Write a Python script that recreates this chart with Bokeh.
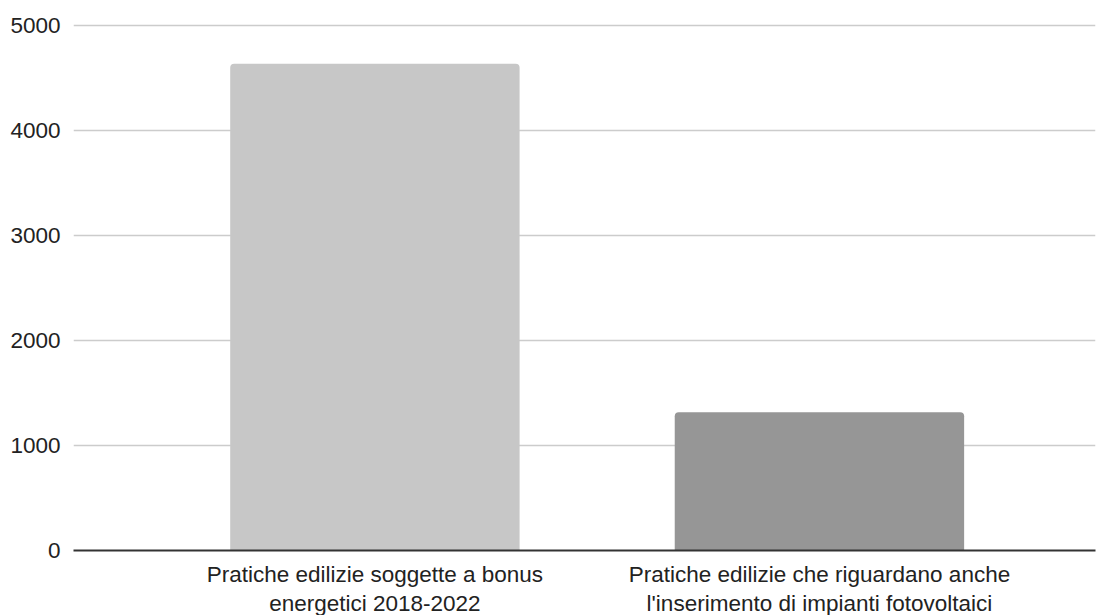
from bokeh.plotting import figure
from bokeh.models import Range1d, FixedTicker, ColumnDataSource
from bokeh.embed import file_html
from bokeh.resources import INLINE

categories = [
    "Pratiche edilizie soggette a bonus\nenergetici 2018-2022",
    "Pratiche edilizie che riguardano anche\nl'inserimento di impianti fotovoltaici",
]
values = [4636, 1318]
colors = ["#c7c7c7", "#969696"]
y_ticks = [0, 1000, 2000, 3000, 4000, 5000]

xs = list(range(len(categories)))
src = ColumnDataSource(dict(x=xs, top=values, color=colors))

p = figure(
    frame_width=1022, frame_height=527,
    x_range=Range1d(-0.678, 1.621), y_range=Range1d(0, 5020),
    output_backend="svg", toolbar_location=None,
    min_border_left=73, min_border_right=2, min_border_top=23, min_border_bottom=0,
)
p.outline_line_color = None
p.background_fill_color = "white"
p.border_fill_color = "white"

p.vbar(x="x", top="top", width=0.651, fill_color="color", line_color=None,
       source=src, border_radius=[4, 4, 0, 0])

font = "Liberation Sans"
# y axis
p.yaxis.ticker = FixedTicker(ticks=y_ticks)
p.yaxis.axis_line_color = None
p.yaxis.major_tick_line_color = None
p.yaxis.minor_tick_line_color = None
p.yaxis.major_label_standoff = 7
p.yaxis.major_label_text_font = font
p.yaxis.major_label_text_font_size = "22.5px"
p.yaxis.major_label_text_color = "#222222"

# x axis
p.xaxis.ticker = FixedTicker(ticks=xs)
p.xaxis.major_label_overrides = {i: c for i, c in zip(xs, categories)}
p.xaxis.axis_line_color = "#333333"
p.xaxis.axis_line_width = 2
p.xaxis.major_tick_line_color = None
p.xaxis.minor_tick_line_color = None
p.xaxis.major_label_standoff = 5
p.xaxis.major_label_text_font = font
p.xaxis.major_label_text_font_size = "22.5px"
p.xaxis.major_label_text_line_height = 1.17
p.xaxis.major_label_text_color = "#222222"

p.xgrid.grid_line_color = None
p.ygrid.grid_line_color = "#cccccc"
p.ygrid.grid_line_width = 1.5

open("out.html", "w").write(file_html(p, INLINE))
